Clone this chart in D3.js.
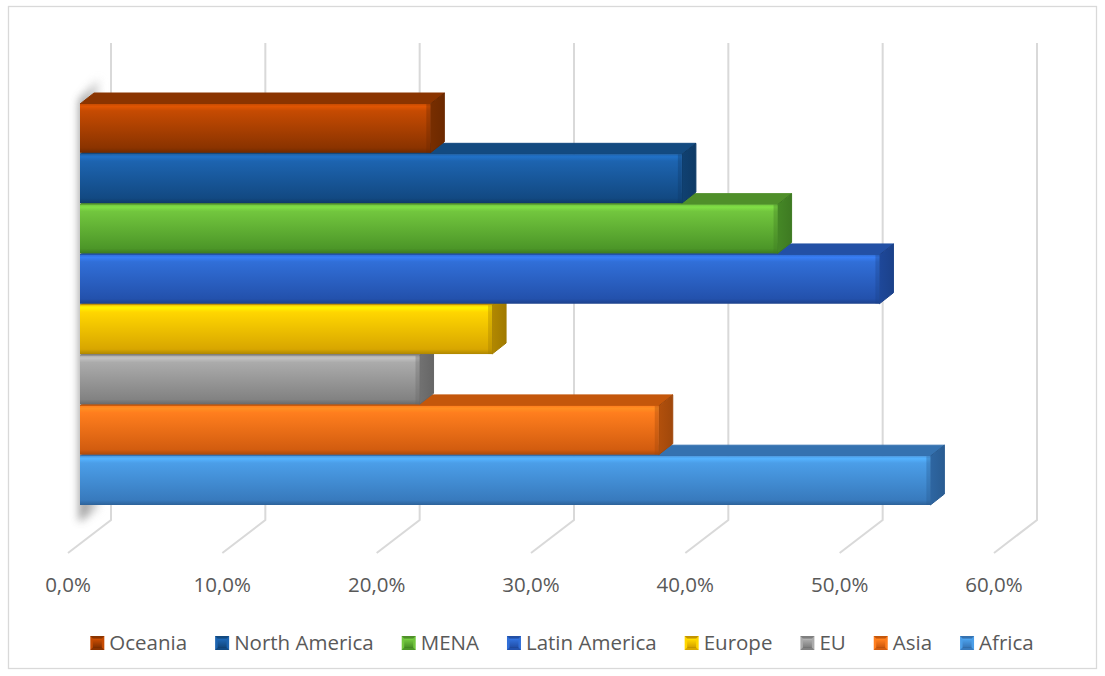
<!DOCTYPE html>
<html>
<head>
<meta charset="utf-8">
<script src="https://cdn.jsdelivr.net/npm/d3@7/dist/d3.min.js"></script>
<style>
  html, body { margin: 0; padding: 0; background: #fff; }
  svg { display: block; }
  text { font-family: "Open Sans", "Liberation Sans", sans-serif; fill: #595959; }
</style>
</head>
<body>
<svg id="chart" width="1105" height="676"></svg>
<script>
// Regions, in stacking order from top bar to bottom bar (also legend order)
const regions = ["Oceania", "North America", "MENA", "Latin America", "Europe", "EU", "Asia", "Africa"];
// Share per region (fraction)
const shares = [0.227, 0.390, 0.452, 0.518, 0.267, 0.220, 0.375, 0.551];
// Axis ticks
const tickValues = [0, 0.1, 0.2, 0.3, 0.4, 0.5, 0.6];
const tickLabels = ["0,0%", "10,0%", "20,0%", "30,0%", "40,0%", "50,0%", "60,0%"];
// Face colours: front top, front bottom, top face, side face
const frontTop    = ["#c64b02", "#1d64b0", "#72c63e", "#316fd8", "#ffd600", "#ababab", "#ff7e1e", "#4b9ee8"];
const frontBottom = ["#8a3300", "#124982", "#4c9628", "#2351ac", "#d8a600", "#828282", "#d25c0f", "#387abd"];
const topFace     = ["#8a3400", "#134a80", "#4f8f2a", "#2350a5", "#c39400", "#7f7f7f", "#c4570b", "#3572b0"];
const sideFace    = ["#6c2900", "#0e3a66", "#3e7a22", "#1b418a", "#a07a00", "#666666", "#a0480b", "#295c92"];

const svg = d3.select("#chart");
const defs = svg.append("defs");

// Oblique depth of bars and of the floor
const depth = { dx: 14, dy: -11 };
const floor = { dx: -43, dy: 33 };

// Scales: front plane for bars, back wall for gridlines
const xFront = d3.scaleLinear().domain([0, 0.6]).range([80, 1006]);
const xBack = d3.scaleLinear().domain([0, 0.6]).range([111, 1037]);
const y = d3.scaleBand().domain(regions).range([104, 505]).paddingInner(0.03);

// Chart border
svg.append("rect")
  .attr("x", 8.5).attr("y", 6.5).attr("width", 1088).attr("height", 662)
  .attr("fill", "#fff").attr("stroke", "#d9d9d9").attr("stroke-width", 1.3);

// Back-wall gridlines and floor lines
const wallTop = 43, wallBottom = 520;
const grid = svg.append("g");
tickValues.forEach(v => {
  const x = xBack(v);
  grid.append("path")
    .attr("d", `M${x},${wallTop}L${x},${wallBottom}L${x + floor.dx},${wallBottom + floor.dy}`)
    .attr("fill", "none").attr("stroke", "#d9d9d9").attr("stroke-width", 2);
});

// Soft side wall on the left
const blur = defs.append("filter").attr("id", "wallBlur").attr("x", "-50%").attr("y", "-10%").attr("width", "200%").attr("height", "120%");
blur.append("feGaussianBlur").attr("stdDeviation", 4);
const wallGrad = defs.append("linearGradient").attr("id", "wallGrad").attr("x1", 0).attr("x2", 1).attr("y1", 0).attr("y2", 0);
wallGrad.append("stop").attr("offset", 0).attr("stop-color", "#7a7a7a");
wallGrad.append("stop").attr("offset", 1).attr("stop-color", "#e0e0e0");
svg.append("path")
  .attr("d", "M79,100L99,78L99,508L79,522Z")
  .attr("fill", "url(#wallGrad)").attr("opacity", 0.85)
  .attr("filter", "url(#wallBlur)");

// Gradients for each bar
regions.forEach((r, i) => {
  const g = defs.append("linearGradient").attr("id", "front" + i)
    .attr("x1", 0).attr("x2", 0).attr("y1", 0).attr("y2", 1);
  const light = d3.color(frontTop[i]).brighter(0.35);
  g.append("stop").attr("offset", 0).attr("stop-color", frontTop[i]);
  g.append("stop").attr("offset", 0.05).attr("stop-color", light);
  g.append("stop").attr("offset", 0.14).attr("stop-color", frontTop[i]);
  g.append("stop").attr("offset", 0.9).attr("stop-color", frontBottom[i]);
  g.append("stop").attr("offset", 1).attr("stop-color", d3.color(frontBottom[i]).darker(0.6));
  const s = defs.append("linearGradient").attr("id", "side" + i)
    .attr("x1", 0).attr("x2", 1).attr("y1", 0).attr("y2", 0);
  s.append("stop").attr("offset", 0).attr("stop-color", d3.color(sideFace[i]).brighter(0.3));
  s.append("stop").attr("offset", 1).attr("stop-color", sideFace[i]);
});

// Bars: drawn bottom-up so each bar's front face hides the top face below it
const bars = svg.append("g");
const order = d3.range(regions.length).reverse();
order.forEach(i => {
  const x0 = xFront(0), x1 = xFront(shares[i]);
  const y0 = y(regions[i]), y1 = y0 + y.bandwidth();
  const g = bars.append("g");
  g.append("path")
    .attr("d", `M${x0},${y0}L${x0 + depth.dx},${y0 + depth.dy}L${x1 + depth.dx},${y0 + depth.dy}L${x1},${y0}Z`)
    .attr("fill", topFace[i]).attr("stroke", topFace[i]).attr("stroke-width", 1).attr("stroke-linejoin", "round");
  g.append("path")
    .attr("d", `M${x1},${y0}L${x1 + depth.dx},${y0 + depth.dy}L${x1 + depth.dx},${y1 + depth.dy}L${x1},${y1}Z`)
    .attr("fill", `url(#side${i})`).attr("stroke", sideFace[i]).attr("stroke-width", 1).attr("stroke-linejoin", "round");
  g.append("rect")
    .attr("x", x0).attr("y", y0).attr("width", x1 - x0).attr("height", y1 - y0)
    .attr("fill", `url(#front${i})`);
  // thin right-edge shading on the front face for a bevelled look
  g.append("rect")
    .attr("x", x1 - 4).attr("y", y0).attr("width", 4).attr("height", y1 - y0)
    .attr("fill", sideFace[i]).attr("opacity", 0.35);
});

// Tick labels along the floor front edge
svg.append("g").selectAll("text")
  .data(tickValues)
  .join("text")
  .attr("x", (d) => xBack(d) + floor.dx)
  .attr("y", 592)
  .attr("text-anchor", "middle")
  .attr("font-size", 20.5)
  .text((d, i) => tickLabels[i]);

// Legend
const legend = svg.append("g");
const items = legend.selectAll("g").data(regions).join("g");
const marker = 14, markerGap = 5, itemGap = 28;
items.each(function (d, i) {
  const g = d3.select(this);
  const m = g.append("g");
  m.append("rect").attr("width", marker).attr("height", marker).attr("fill", frontTop[i]);
  m.append("path").attr("d", `M0,0L${marker},0L${marker / 2},${marker / 2}Z`).attr("fill", topFace[i]);
  m.append("path").attr("d", `M0,${marker}L${marker},${marker}L${marker / 2},${marker / 2}Z`).attr("fill", frontBottom[i]);
  m.append("rect").attr("x", 2.5).attr("y", 2.5).attr("width", marker - 5).attr("height", marker - 5)
    .attr("fill", `url(#front${i})`);
  m.attr("transform", `translate(0,${-marker})`);
  g.append("text").attr("x", marker + markerGap).attr("y", 0).attr("font-size", 20.5).text(d);
});
let widths = [];
items.each(function () { widths.push(this.getBBox().width); });
const total = d3.sum(widths) + itemGap * (widths.length - 1);
let cx = 562 - total / 2;
items.each(function (d, i) {
  d3.select(this).attr("transform", `translate(${cx},650)`);
  cx += widths[i] + itemGap;
});
</script>
</body>
</html>
